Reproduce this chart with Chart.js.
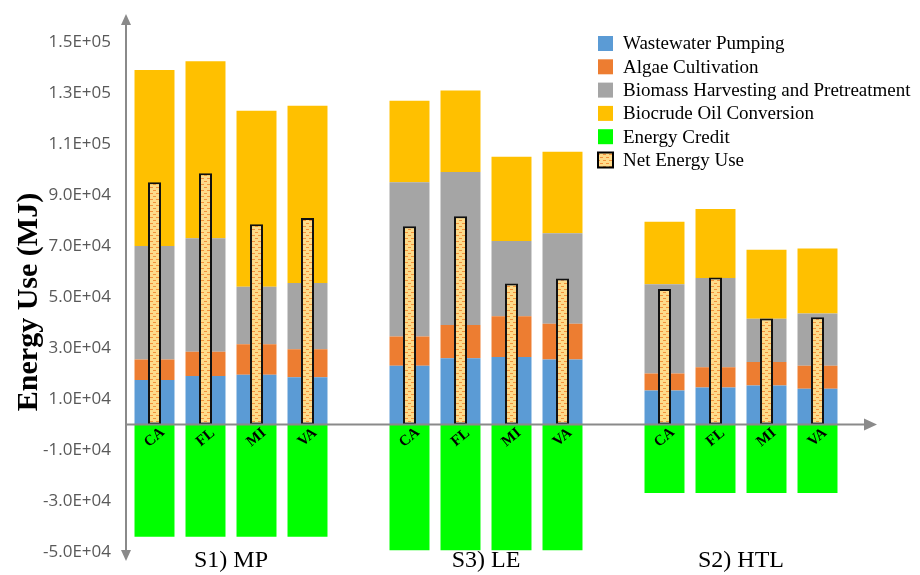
<!DOCTYPE html>
<html>
<head>
<meta charset="utf-8">
<script src="https://cdn.jsdelivr.net/npm/chart.js@4.4.1/dist/chart.umd.min.js"></script>
<style>
  html, body { margin: 0; padding: 0; background: #ffffff; }
  #wrap { width: 920px; height: 575px; }
</style>
</head>
<body>
<div id="wrap"><canvas id="c" width="920" height="575"></canvas></div>
<script>
// ---- data (MJ) ----
const categories = ['CA','FL','MI','VA','', 'CA','FL','MI','VA','', 'CA','FL','MI','VA'];
const groupLabels = ['S1) MP', 'S3) LE', 'S2) HTL'];
const groupStart = [0, 5, 10];
const wastewaterPumping = [17500, 19000, 19500, 18500, null, 23000, 26000, 26500, 25500, null, 13300, 14500, 15300, 14000];
const algaeCultivation  = [8000, 9500, 12000, 11000, null, 11500, 13000, 16000, 14000, null, 6700, 8000, 9200, 9000];
const biomassHarvesting = [44500, 44500, 22500, 26000, null, 60500, 60000, 29500, 35500, null, 35000, 35000, 17000, 20500];
const biocrudeConversion= [69000, 69500, 69000, 69500, null, 32000, 32000, 33000, 32000, null, 24500, 27000, 27000, 25500];
const energyCredit      = [-44000, -44000, -44000, -44000, null, -49300, -49300, -49300, -49300, null, -26900, -26900, -26900, -26900];
const netEnergyUse      = [95000, 98500, 78500, 81000, null, 77700, 81700, 55300, 57300, null, 53100, 57600, 41600, 42100];
const tickValues = [-50000, -30000, -10000, 10000, 30000, 50000, 70000, 90000, 110000, 130000, 150000];
const tickLabels = ['-5.0E+04','-3.0E+04','-1.0E+04','1.0E+04','3.0E+04','5.0E+04','7.0E+04','9.0E+04','1.1E+05','1.3E+05','1.5E+05'];
const seriesNames = ['Wastewater Pumping','Algae Cultivation','Biomass Harvesting and Pretreatment','Biocrude Oil Conversion','Energy Credit','Net Energy Use'];

const ctx = document.getElementById('c').getContext('2d');

function makePattern() {
  const c = document.createElement('canvas');
  c.width = 6; c.height = 6;
  const g = c.getContext('2d');
  g.fillStyle = '#FDDB8A';
  g.fillRect(0, 0, 6, 6);
  g.fillStyle = '#F4913A';
  g.fillRect(0, 1, 3, 1);
  g.fillRect(3, 4, 3, 1);
  return ctx.createPattern(c, 'repeat');
}
const netPattern = makePattern();

const AXIS_COLOR = '#8A8A8A';

const decorPlugin = {
  id: 'decor',
  afterDatasetsDraw(chart) {
    const g = chart.ctx;
    const y = chart.scales.y, x = chart.scales.x;
    const zeroY = y.getPixelForValue(0);
    const axX = chart.chartArea.left - 3;
    g.save();
    g.strokeStyle = AXIS_COLOR;
    g.fillStyle = AXIS_COLOR;
    g.lineWidth = 2;
    // y axis
    g.beginPath();
    g.moveTo(axX, 22);
    g.lineTo(axX, 553);
    g.stroke();
    g.beginPath();
    g.moveTo(axX, 14); g.lineTo(axX - 5, 25); g.lineTo(axX + 5, 25); g.closePath(); g.fill();
    g.beginPath();
    g.moveTo(axX, 561); g.lineTo(axX - 5, 550); g.lineTo(axX + 5, 550); g.closePath(); g.fill();
    // x axis at zero
    g.beginPath();
    g.moveTo(axX, zeroY);
    g.lineTo(868, zeroY);
    g.stroke();
    g.beginPath();
    g.moveTo(877, zeroY); g.lineTo(864, zeroY - 6); g.lineTo(864, zeroY + 6); g.closePath(); g.fill();
    // category labels
    g.fillStyle = '#000000';
    g.font = 'bold 15px "Liberation Serif"';
    g.textAlign = 'center';
    g.textBaseline = 'middle';
    categories.forEach((c, i) => {
      if (!c) return;
      const px = x.getPixelForValue(i);
      g.save();
      g.translate(px, zeroY + 13);
      g.rotate(-40 * Math.PI / 180);
      g.fillText(c, 0, 0);
      g.restore();
    });
    g.restore();
  },
  afterDraw(chart) {
    const g = chart.ctx;
    const x = chart.scales.x;
    g.save();
    // group labels
    g.fillStyle = '#000000';
    g.font = '24px "Liberation Serif"';
    g.textAlign = 'center';
    g.textBaseline = 'alphabetic';
    groupLabels.forEach((t, k) => {
      const a = x.getPixelForValue(groupStart[k]);
      const b = x.getPixelForValue(groupStart[k] + 3);
      g.fillText(t, (a + b) / 2, 567);
    });
    // y title
    g.save();
    g.translate(29, 302);
    g.rotate(-Math.PI / 2);
    g.font = 'bold 30px "Liberation Serif"';
    g.textAlign = 'center';
    g.textBaseline = 'middle';
    g.fillText('Energy Use (MJ)', 0, 0);
    g.restore();
    // legend
    const ds = chart.data.datasets;
    g.font = '19px "Liberation Serif"';
    g.textAlign = 'left';
    g.textBaseline = 'middle';
    ds.forEach((d, i) => {
      const cy = 43.5 + i * 23.3;
      g.fillStyle = d.backgroundColor;
      g.fillRect(598, cy - 7.5, 15, 15);
      if (d.borderWidth) {
        g.strokeStyle = '#000000';
        g.lineWidth = 2;
        g.strokeRect(598, cy - 7.5, 15, 15);
      }
      g.fillStyle = '#000000';
      g.fillText(d.label, 623, cy + 1);
    });
    g.restore();
  }
};

const stackedBar = (label, data, color) => ({
  label, data, backgroundColor: color, borderWidth: 0,
  stack: 'main', grouped: false, barPercentage: 0.784, categoryPercentage: 1
});

new Chart(ctx, {
  type: 'bar',
  data: {
    labels: categories,
    datasets: [
      stackedBar(seriesNames[0], wastewaterPumping, '#5B9BD5'),
      stackedBar(seriesNames[1], algaeCultivation, '#ED7D31'),
      stackedBar(seriesNames[2], biomassHarvesting, '#A5A5A5'),
      stackedBar(seriesNames[3], biocrudeConversion, '#FFC000'),
      stackedBar(seriesNames[4], energyCredit, '#00FF00'),
      {
        label: seriesNames[5], data: netEnergyUse, backgroundColor: netPattern,
        borderColor: '#111111', borderWidth: 2, borderSkipped: false,
        stack: 'net', grouped: false, barPercentage: 0.255, categoryPercentage: 1, order: -1
      }
    ]
  },
  options: {
    responsive: false,
    animation: false,
    layout: { padding: { left: 0, right: 77, top: 16.5, bottom: 23 } },
    plugins: { legend: { display: false }, tooltip: { enabled: false } },
    scales: {
      x: { type: 'category', stacked: true, display: false, offset: true },
      y: {
        stacked: true, min: -50000, max: 160000,
        grid: { display: false, drawTicks: false },
        border: { display: false },
        ticks: {
          color: '#595959', padding: 18,
          font: { family: 'Open Sans', size: 17 },
          callback: (v) => { const i = tickValues.indexOf(v); return i >= 0 ? tickLabels[i] : ''; }
        },
        afterBuildTicks: (s) => { s.ticks = tickValues.map(v => ({ value: v })); },
        afterFit: (s) => { s.width = 129; s.paddingTop = 0; s.paddingBottom = 0; }
      }
    }
  },
  plugins: [decorPlugin]
});
</script>
</body>
</html>
